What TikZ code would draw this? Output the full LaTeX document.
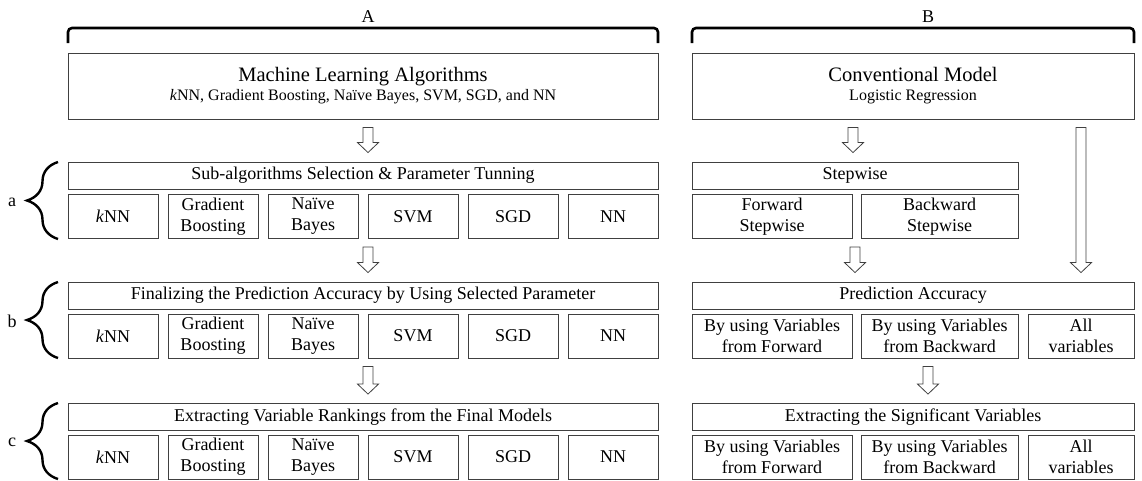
\documentclass[tikz,border=0pt]{standalone}
\usepackage{fontspec}
\setmainfont{Liberation Serif}
\usetikzlibrary{calc,decorations.pathreplacing}

\tikzset{
  box/.style={draw=black!75, line width=0.9pt, inner sep=0pt, align=center,
    font=\fontsize{18}{21}\selectfont},
  lbl/.style={font=\fontsize{18}{21}\selectfont},
  hollow/.style={draw=black!75, line width=0.8pt, fill=white},
  bracket/.style={line width=2.6pt, rounded corners=4pt},
  bracetip/.style={line width=2.4pt, decorate, decoration={brace, amplitude=31pt}},
}

% hollow block arrow: x position, source node, target node
\newcommand{\blockarrow}[3]{%
  \path (#1,0) coordinate (ax);
  \draw[hollow] ($(ax |- #2.south)+(-5,8)$) -- ($(ax |- #3.north)+(-5,-19)$) -- ++(-5.5,0)
    -- ($(ax |- #3.north)+(0,-9)$) -- ($(ax |- #3.north)+(10.5,-19)$) -- ++(-5.5,0)
    -- ($(ax |- #2.south)+(5,8)$) -- cycle;
}

\begin{document}
\begin{tikzpicture}[x=1pt,y=-1pt]
  \useasboundingbox (0,0) rectangle (1142,480);

  \node[lbl] (hA) at (368,17) {A};
  \node[lbl] (hB) at (928,17) {B};
  \draw[bracket] (68,43) -- (68,28) -- (658,28) -- (658,43);
  \draw[bracket] (692,43) -- (692,28) -- (1134,28) -- (1134,43);

  % column A
  \node[box, minimum width=590pt, minimum height=66pt] (mla) at (363,86)
    {{\fontsize{20.5}{22}\selectfont Machine Learning Algorithms}\\[-2pt]
     {\fontsize{16}{18}\selectfont \textit{k}NN, Gradient Boosting, Naïve Bayes, SVM, SGD, and NN}};
  \node[box, minimum width=590pt, minimum height=27pt] (selA) at (363,175.5)
    {Sub-algorithms Selection \& Parameter Tunning};
  \node[box, minimum width=590pt, minimum height=27pt] (finA) at (363,295.5)
    {Finalizing the Prediction Accuracy by Using Selected Parameter};
  \node[box, minimum width=590pt, minimum height=27pt] (extA) at (363,417)
    {Extracting Variable Rankings from the Final Models};
  \foreach \r/\y in {a/216.5,b/336,c/457} {
    \foreach \n/\t [count=\i from 0] in {knn/\textit{k}NN, gb/Gradient\\Boosting,
        nb/Naïve\\Bayes, svm/SVM, sgd/SGD, nn/NN}
      \node[box, minimum width=90pt, minimum height=44pt] (\r-\n) at ({113+100*\i},\y) {\t};
  }

  % column B
  \node[box, minimum width=442pt, minimum height=66pt] (conv) at (913,86)
    {{\fontsize{20.5}{22}\selectfont Conventional Model}\\[-2pt]
     {\fontsize{16}{18}\selectfont Logistic Regression}};
  \node[box, minimum width=326pt, minimum height=27pt] (step) at (855,175.5) {Stepwise};
  \node[box, minimum width=160pt, minimum height=44pt] (fwd) at (772,216.5) {Forward\\Stepwise};
  \node[box, minimum width=157pt, minimum height=44pt] (bwd) at (939.5,216.5) {Backward\\Stepwise};
  \node[box, minimum width=442pt, minimum height=27pt] (pred) at (913,295.5) {Prediction Accuracy};
  \node[box, minimum width=442pt, minimum height=27pt] (sig) at (913,417)
    {Extracting the Significant Variables};
  \foreach \r/\y in {b/336,c/457} {
    \node[box, minimum width=160pt, minimum height=44pt] (\r-fwd) at (772,\y)
      {By using Variables\\from Forward};
    \node[box, minimum width=157pt, minimum height=44pt] (\r-bwd) at (939.5,\y)
      {By using Variables\\from Backward};
    \node[box, minimum width=106pt, minimum height=44pt] (\r-all) at (1081,\y)
      {All\\variables};
  }

  % braces
  \foreach \r/\t/\b/\m in {a/162/239/202, b/282/358/321, c/403/479/442} {
    \node[lbl] (side-\r) at (12,\m) {\r};
    \draw[bracetip] (58,\b) -- (58,\t);
  }

  % arrows
  \blockarrow{368}{mla}{selA}
  \blockarrow{368}{a-svm}{finA}
  \blockarrow{368}{b-svm}{extA}
  \blockarrow{853}{conv}{step}
  \blockarrow{855}{fwd}{pred}
  \blockarrow{928}{b-fwd}{sig}
  \blockarrow{1081}{conv}{pred}
\end{tikzpicture}
\end{document}
